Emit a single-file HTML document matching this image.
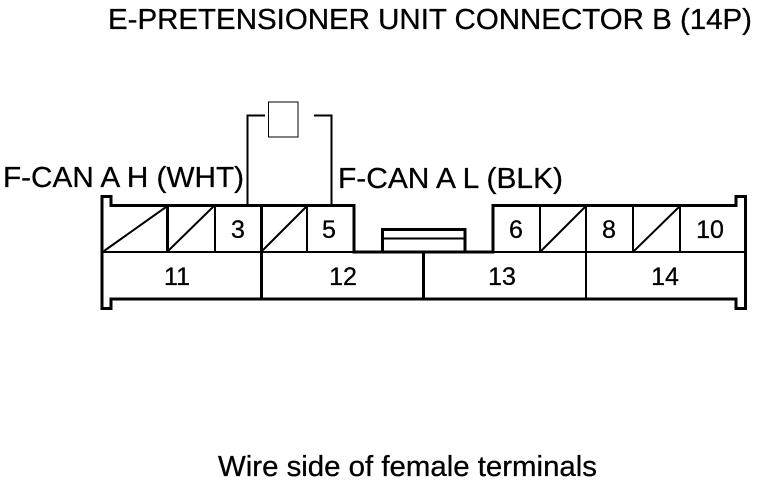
<!DOCTYPE html>
<html><head><meta charset="utf-8"><style>html,body{margin:0;padding:0;background:#fff}svg{display:block}text{font-family:"Liberation Sans",sans-serif;fill:#000;stroke:#000;stroke-width:.3px}</style></head>
<body>
<svg width="768" height="484" viewBox="0 0 768 484" xmlns="http://www.w3.org/2000/svg">
<rect width="768" height="484" fill="#fff"/>
<g font-size="29">
<text x="108" y="29" textLength="644" lengthAdjust="spacingAndGlyphs">E-PRETENSIONER UNIT CONNECTOR B (14P)</text>
<text x="3" y="187" textLength="241" lengthAdjust="spacingAndGlyphs">F-CAN A H (WHT)</text>
<text x="338" y="188" textLength="225" lengthAdjust="spacingAndGlyphs">F-CAN A L (BLK)</text>
<text x="218" y="476" textLength="379" lengthAdjust="spacingAndGlyphs">Wire side of female terminals</text>
</g>
<g fill="none" stroke="#000">
<path d="M102 252V196.500H111V205.500H354V252H493V205.500H736V196.500H745.500V308.500H736V299H111V308.500H102V252" stroke-width="3"/>
<path d="M102 252H745" stroke-width="2"/>
<path d="M167.500 205V252M261.500 205V299M354 205V252M423.500 252V299M493 205V252" stroke-width="3"/>
<path d="M215 205V252M307 205V252M540 205V252M586 205V299M633 205V252M680 205V252" stroke-width="2"/>
<path d="M104 251L166 207M168 251L214 206M262 251L307 206M541 251L586 206M634 251L680 206" stroke-width="2"/>
<path d="M247.500 205V115.500H265M331.500 205V115.500H314" stroke-width="2"/>
<rect x="268.500" y="102" width="29.500" height="35" stroke-width="1"/>
<path d="M382.500 252V229.500H465V252" stroke-width="3"/>
<path d="M382 238.500H465" stroke-width="2"/>
</g>
<g font-size="25" text-anchor="middle">
<text x="238" y="238">3</text>
<text x="329" y="238">5</text>
<text x="516" y="238">6</text>
<text x="609" y="238">8</text>
<text x="710" y="238">10</text>
<text x="177" y="285">11</text>
<text x="343" y="285">12</text>
<text x="502" y="285">13</text>
<text x="665" y="285">14</text>
</g>
</svg>
</body></html>
